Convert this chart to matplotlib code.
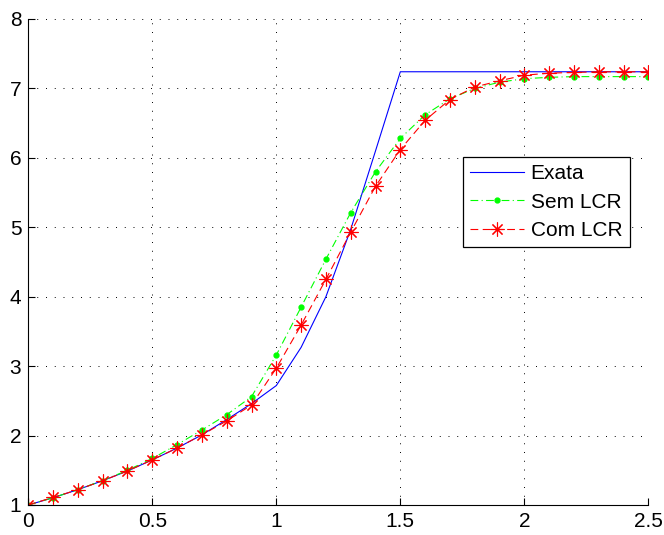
import numpy as np
import matplotlib
matplotlib.use("Agg")
import matplotlib.pyplot as plt

x = [0, 0.1, 0.2, 0.3, 0.4, 0.5, 0.6, 0.7, 0.8, 0.9, 1.0, 1.1, 1.2, 1.3, 1.4, 1.5,
     1.6, 1.7, 1.8, 1.9, 2.0, 2.1, 2.2, 2.3, 2.4, 2.5]

exata = [1.0, 1.105, 1.221, 1.35, 1.49, 1.65, 1.82, 2.01, 2.23, 2.46, 2.72, 3.27, 4.0,
         4.97, 6.1, 7.24, 7.24, 7.24, 7.24, 7.24, 7.24, 7.24, 7.24, 7.24, 7.24, 7.24]
sem_lcr = [1.0, 1.105, 1.222, 1.352, 1.5, 1.67, 1.87, 2.08, 2.3, 2.56, 3.16, 3.85, 4.54,
           5.21, 5.8, 6.28, 6.62, 6.85, 7.0, 7.09, 7.14, 7.16, 7.17, 7.17, 7.17, 7.17]
com_lcr = [1.0, 1.11, 1.22, 1.35, 1.49, 1.65, 1.82, 2.01, 2.21, 2.44, 2.97, 3.59, 4.25,
           4.93, 5.59, 6.12, 6.54, 6.84, 7.02, 7.11, 7.19, 7.22, 7.23, 7.24, 7.24, 7.24]

xticks = [0, 0.5, 1, 1.5, 2, 2.5]
xticklabels = ["0", "0.5", "1", "1.5", "2", "2.5"]
yticks = [1, 2, 3, 4, 5, 6, 7, 8]

plt.rcParams["font.family"] = ["Liberation Sans", "DejaVu Sans"]

fig = plt.figure(figsize=(6.64, 5.35), dpi=100)
ax = fig.add_axes([0.0426, 0.0561, 0.9338, 0.9084])

ax.plot(x, exata, color=(0, 0, 1), lw=0.8, label="Exata")
ax.plot(x, sem_lcr, color=(0, 1, 0), lw=0.8, linestyle=(0, (7, 3, 1, 3)),
        marker=".", markersize=7, label="Sem LCR")
ax.plot(x, com_lcr, color=(1, 0, 0), lw=0.8, linestyle=(0, (7, 4)),
        marker=(8, 2, 0), markersize=10, markeredgewidth=0.8, label="Com LCR")

ax.set_xlim(0, 2.5)
ax.set_ylim(1, 8)
ax.set_xticks(xticks)
ax.set_xticklabels(xticklabels)
ax.set_yticks(yticks)
ax.tick_params(direction="in", length=5, width=0.8, labelsize=15, pad=5)
ax.grid(True, color="black", linestyle=(0, (1, 8)), lw=0.7)

for s in ["top", "right"]:
    ax.spines[s].set_visible(False)
for s in ["left", "bottom"]:
    ax.spines[s].set_linewidth(0.8)

leg = ax.legend(loc="upper left", bbox_to_anchor=(0.701, 0.716), fontsize=15,
                fancybox=False, framealpha=1, edgecolor="black", handlelength=2.6,
                borderpad=0.35, labelspacing=0.45, handletextpad=0.3,
                borderaxespad=0)
leg.get_frame().set_linewidth(0.9)

fig.savefig("out.png", dpi=100)
